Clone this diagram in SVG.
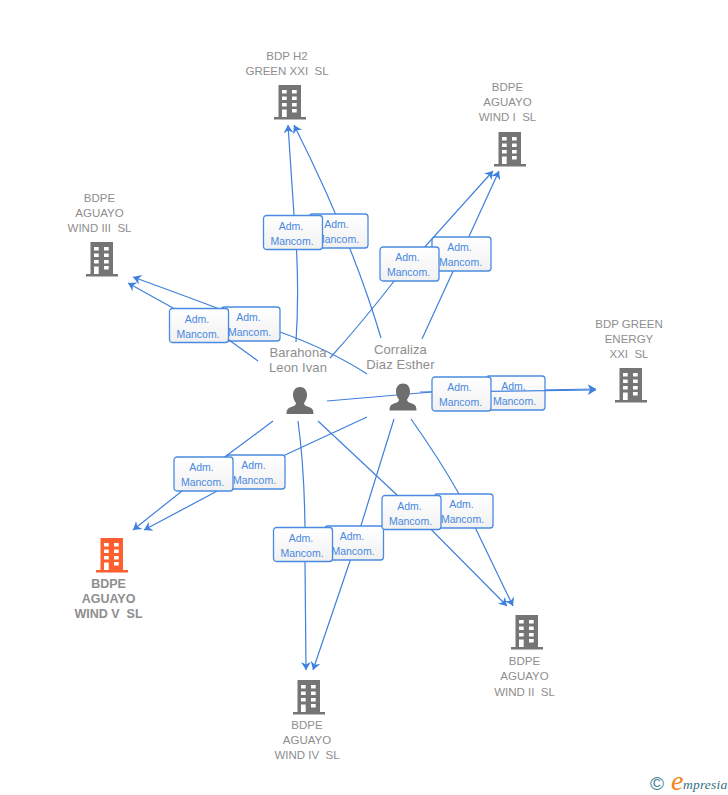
<svg xmlns="http://www.w3.org/2000/svg" xmlns:xlink="http://www.w3.org/1999/xlink" width="728" height="795" viewBox="0 0 728 795">
<style>
text{font-family:"Liberation Sans",Arial,sans-serif;white-space:pre}
.n{font-size:11.500px;fill:#8e8e8e;text-anchor:middle}
.b{font-weight:bold;font-size:12.500px}
.p{font-size:13px;fill:#8e8e8e;text-anchor:middle;letter-spacing:.1px}
.l{font-size:10.500px;fill:#4a88e0;text-anchor:middle}
.c{fill:none;stroke:#3f80dc;stroke-width:1.2;marker-end:url(#ah)}
.bx{fill:url(#bg);stroke:#4a8ae0;stroke-width:1.3}
</style>
<defs>
<linearGradient id="bg" x1="0" y1="0" x2="0" y2="1"><stop offset="0" stop-color="#ffffff"/><stop offset="1" stop-color="#f1f1f1"/></linearGradient>
<marker id="ah" markerUnits="userSpaceOnUse" markerWidth="12" markerHeight="12" refX="8" refY="6" orient="auto"><path d="M0,1 L8,6 L0,11 L2.500,6 z" fill="#3f80dc"/></marker>
<g id="bld"><path d="M4.500 0H27V32H32V34.500H0V32H4.500Z M8 5V8.500H12.700V5Z M18 5V8.500H22.700V5Z M8 11.500V15H12.700V11.500Z M18 11.500V15H22.700V11.500Z M8 18V21.500H12.700V18Z M18 18V21.500H22.700V18Z M8 24.500V32H12.700V24.500Z M18 24V27.500H22.700V24Z" fill-rule="evenodd"/></g>
<g id="per"><path d="M13.500 0C9 0 6.500 3.500 6.500 8C6.500 11.500 8 14 9.500 16C9.500 18 8 19 4.500 20C1.500 21 0 22.500 0 27H27C27 22.500 25.500 21 22.500 20C19 19 17.500 18 17.500 16C19 14 20.500 11.500 20.500 8C20.500 3.500 18 0 13.500 0Z"/></g>
<g id="box"><rect width="59" height="34" rx="3" class="bx"/><text class="l" x="27.500" y="14">Adm.</text><text class="l" x="28.500" y="29">Mancom.</text></g>
</defs>
<rect width="728" height="795" fill="#ffffff"/>
<g id="connectors-corraliza">
<path class="c" d="M381 338Q352 240 294 125"/>
<path class="c" d="M422 339L499 171"/>
<path class="c" d="M367 374Q330 350 280 332Q210 305 133 277"/>
<path class="c" d="M420 392L596 389"/>
<path class="c" d="M367 417L285 455L144 530"/>
<path class="c" d="M394 419L350 561L313 670"/>
<path class="c" d="M411 419Q440 460 459 494L513 606"/>
</g>
<g id="labels-corraliza">
<use href="#box" x="309" y="214"/>
<use href="#box" x="432" y="237"/>
<use href="#box" x="221" y="307"/>
<use href="#box" x="486" y="376"/>
<use href="#box" x="226" y="455"/>
<use href="#box" x="324.500" y="526"/>
<use href="#box" x="434" y="494"/>
</g>
<g id="connectors-barahona">
<path class="c" d="M296 342Q300 280 294 215L288 125"/>
<path class="c" d="M330 358Q360 325 395 280L493 171"/>
<path class="c" d="M258 361L229 340L173 308L128 283"/>
<path class="c" d="M327 401L432 392L596 390"/>
<path class="c" d="M273 421L226 456L133 530"/>
<path class="c" d="M298 421Q306 480 305 562L306 670"/>
<path class="c" d="M318 421L397 495L507 606"/>
</g>
<g id="labels-barahona">
<use href="#box" x="263.500" y="215.500"/>
<use href="#box" x="380" y="247"/>
<use href="#box" x="169.500" y="308.500"/>
<use href="#box" x="432" y="377"/>
<use href="#box" x="174" y="457"/>
<use href="#box" x="273.500" y="527.500"/>
<use href="#box" x="382" y="495.500"/>
</g>
<g id="node-h2"><use href="#bld" x="274" y="85" fill="#757575"/><text class="n" x="287" y="60">BDP H2</text><text class="n" x="287" y="75">GREEN XXI  SL</text></g>
<g id="node-wind1"><use href="#bld" x="494" y="132" fill="#757575"/><text class="n" x="507.500" y="91">BDPE</text><text class="n" x="507.500" y="106">AGUAYO</text><text class="n" x="507.500" y="121">WIND I  SL</text></g>
<g id="node-wind3"><use href="#bld" x="86" y="242" fill="#757575"/><text class="n" x="99.500" y="202">BDPE</text><text class="n" x="99.500" y="217">AGUAYO</text><text class="n" x="99.500" y="232">WIND III  SL</text></g>
<g id="node-green"><use href="#bld" x="615" y="368" fill="#757575"/><text class="n" x="629" y="328">BDP GREEN</text><text class="n" x="629" y="343">ENERGY</text><text class="n" x="629" y="358">XXI  SL</text></g>
<g id="node-wind5"><use href="#bld" x="96" y="538" fill="#ff5e2e"/><text class="n b" x="108.500" y="588">BDPE</text><text class="n b" x="108.500" y="603">AGUAYO</text><text class="n b" x="108.500" y="618">WIND V  SL</text></g>
<g id="node-wind4"><use href="#bld" x="293" y="680" fill="#757575"/><text class="n" x="307" y="729">BDPE</text><text class="n" x="307" y="744">AGUAYO</text><text class="n" x="307" y="759">WIND IV  SL</text></g>
<g id="node-wind2"><use href="#bld" x="511" y="615" fill="#757575"/><text class="n" x="524.500" y="665">BDPE</text><text class="n" x="524.500" y="680">AGUAYO</text><text class="n" x="524.500" y="696">WIND II  SL</text></g>
<g id="node-barahona"><use href="#per" x="286.500" y="387" fill="#6e6e6e"/><text class="p" x="298" y="357">Barahona</text><text class="p" x="298" y="372">Leon Ivan</text></g>
<g id="node-corraliza"><use href="#per" x="389.500" y="383.500" fill="#6e6e6e"/><text class="p" x="400.500" y="354">Corraliza</text><text class="p" x="400.500" y="369">Diaz Esther</text></g>
<g id="logo"><text x="650" y="790" font-size="19" fill="#3f7f92">©</text><text x="671" y="790" font-size="28" fill="#f58220" style="font-family:'Liberation Serif',serif;font-style:italic">e</text><text x="683" y="789" font-size="13.500" fill="#2f6f80" style="font-family:'Liberation Serif',serif;font-style:italic;letter-spacing:.2px">mpresia</text></g>
</svg>
